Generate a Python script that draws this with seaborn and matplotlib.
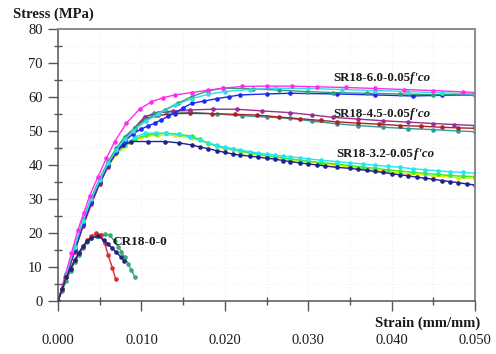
import matplotlib
matplotlib.use("Agg")
import matplotlib.pyplot as plt
import seaborn as sns
import numpy as np
from matplotlib.ticker import MultipleLocator, FormatStrFormatter

sns.set_theme(style="white")
plt.rcParams["font.family"] = ["Liberation Serif", "DejaVu Serif"]

# ---- stress-strain data (strain in mm/mm, stress in MPa) ----
# SR18-6.0-0.05f'co specimens
sr60_magenta_strain = [0, 0.0008, 0.0016, 0.0024, 0.0031, 0.0038, 0.0048, 0.0058, 0.0068, 0.0082, 0.0098,
                       0.0112, 0.0126, 0.0140, 0.0160, 0.0180, 0.0198, 0.0220, 0.0250, 0.0280, 0.0310,
                       0.0345, 0.0380, 0.0415, 0.0450, 0.0485, 0.0500]
sr60_magenta_stress = [0, 7, 14, 21, 26, 31, 36.6, 42, 46.9, 52.3, 56.5, 58.6, 59.8, 60.6, 61.3, 62.0,
                       62.6, 63.1, 63.2, 63.2, 63.0, 62.8, 62.5, 62.2, 61.9, 61.5, 61.3]
sr60_cyan_strain = [0, 0.001, 0.002, 0.003, 0.004, 0.005, 0.006, 0.007, 0.008, 0.009, 0.0105, 0.012,
                    0.014, 0.016, 0.018, 0.020, 0.023, 0.026, 0.030, 0.034, 0.038, 0.042, 0.046, 0.050]
sr60_cyan_stress = [0, 8, 16, 23.5, 30, 35.5, 40.5, 44.5, 47.5, 50, 52.8, 55, 57.5, 59.5, 60.8, 61.6,
                    62.2, 62.6, 62.5, 62.2, 61.9, 61.6, 61.2, 60.9]
sr60_green_strain = [0, 0.001, 0.002, 0.003, 0.004, 0.005, 0.006, 0.007, 0.008, 0.0092, 0.0104, 0.0116,
                     0.0128, 0.0144, 0.016, 0.018, 0.0198, 0.0234, 0.0265, 0.0298, 0.033, 0.037,
                     0.041, 0.045, 0.050]
sr60_green_stress = [0, 8, 16, 24, 30.5, 36, 41, 45, 48.3, 51, 53.2, 54.8, 56.2, 58.2, 60.1, 61.8, 62.6,
                     62.4, 62.0, 61.6, 61.3, 61.1, 60.9, 60.7, 60.6]
sr60_blue_strain = [0, 0.001, 0.002, 0.003, 0.004, 0.005, 0.006, 0.007, 0.008, 0.009, 0.0100, 0.0108,
                    0.0116, 0.0124, 0.0132, 0.014, 0.015, 0.016, 0.0175, 0.019, 0.0205, 0.0218, 0.025,
                    0.0278, 0.0334, 0.038, 0.0426, 0.046, 0.050]
sr60_blue_stress = [0, 7.5, 15, 22.5, 29, 35, 40, 44, 47, 49.2, 50.6, 51.5, 52.3, 53.3, 54.3, 55.3, 56.8,
                    58.1, 58.8, 59.5, 60.1, 60.6, 60.9, 61.1, 60.9, 60.6, 60.3, 60.5, 60.6]

# SR18-4.5-0.05f'co specimens
sr45_purple_strain = [0, 0.001, 0.002, 0.003, 0.004, 0.005, 0.006, 0.007, 0.008, 0.0092, 0.0104, 0.012,
                      0.0138, 0.0158, 0.0186, 0.0214, 0.0245, 0.0278, 0.0305, 0.033, 0.036, 0.039,
                      0.042, 0.045, 0.0475, 0.050]
sr45_purple_stress = [0, 7.5, 15, 22.5, 29, 35, 40, 44, 47.5, 51, 54.2, 55.3, 55.9, 56.2, 56.4, 56.4,
                      55.9, 55.4, 54.7, 54.0, 53.5, 53.0, 52.6, 52.2, 51.9, 51.6]
sr45_red_strain = [0, 0.001, 0.002, 0.003, 0.004, 0.005, 0.006, 0.007, 0.008, 0.0092, 0.0104, 0.012,
                   0.014, 0.0158, 0.0185, 0.0212, 0.0238, 0.0265, 0.029, 0.0315, 0.0334, 0.036, 0.0385,
                   0.041, 0.0435, 0.046, 0.048, 0.050]
sr45_red_stress = [0, 7, 14.5, 22, 28.5, 34.5, 39.5, 43.8, 47.5, 51, 53.5, 54.6, 55.1, 55.2, 55.1, 54.9,
                   54.7, 54.1, 53.6, 53.1, 52.7, 52.3, 52.0, 51.6, 51.4, 51.1, 50.9, 50.8]
sr45_teal_strain = [0, 0.001, 0.002, 0.003, 0.004, 0.005, 0.006, 0.007, 0.008, 0.0092, 0.0104, 0.0115,
                    0.013, 0.0158, 0.019, 0.022, 0.025, 0.0278, 0.0305, 0.0334, 0.036, 0.039, 0.042,
                    0.045, 0.048, 0.050]
sr45_teal_stress = [0, 7.5, 15, 22.5, 29, 35, 40, 44, 47.5, 51, 54, 55.3, 55.6, 55.5, 55.0, 54.5, 54.1,
                    53.7, 52.9, 52.1, 51.6, 51.1, 50.7, 50.4, 50.0, 49.8]

# SR18-3.2-0.05f'co specimens
sr32_navy_strain = [0, 0.001, 0.002, 0.003, 0.004, 0.005, 0.006, 0.0068, 0.0078, 0.0088, 0.0108, 0.0128,
                    0.0145, 0.016, 0.017, 0.018, 0.019, 0.020, 0.021, 0.0218, 0.023, 0.024, 0.025,
                    0.026, 0.027, 0.0278, 0.029, 0.030, 0.031, 0.032, 0.0334, 0.035, 0.036, 0.037,
                    0.038, 0.039, 0.040, 0.041, 0.042, 0.043, 0.044, 0.045, 0.046, 0.047, 0.048,
                    0.049, 0.050]
sr32_navy_stress = [0, 7.5, 15, 22.5, 29, 35, 40.5, 43.5, 45.8, 46.9, 46.9, 46.9, 46.5, 45.9, 45.3, 44.8,
                    44.2, 43.7, 43.2, 42.9, 42.6, 42.3, 42.0, 41.7, 41.3, 41.0, 40.6, 40.3, 40.0, 39.7,
                    39.3, 39.0, 38.7, 38.4, 38.1, 37.8, 37.4, 37.1, 36.8, 36.4, 36.1, 35.8, 35.4, 35.1,
                    34.8, 34.4, 34.1]
sr32_cyan_strain = [0, 0.001, 0.002, 0.003, 0.004, 0.005, 0.006, 0.007, 0.008, 0.0092, 0.0104, 0.0118,
                    0.013, 0.0145, 0.0158, 0.017, 0.018, 0.019, 0.020, 0.021, 0.0218, 0.023, 0.024,
                    0.025, 0.026, 0.027, 0.0278, 0.029, 0.030, 0.0315, 0.0334, 0.035, 0.0365, 0.038,
                    0.0395, 0.041, 0.0425, 0.044, 0.0455, 0.047, 0.0485, 0.050]
sr32_cyan_stress = [0, 7.5, 15, 22.5, 29, 35, 40, 43.5, 46, 48.2, 49.3, 49.4, 49.3, 49.0, 48.3, 47.3, 46.5,
                    45.8, 45.2, 44.8, 44.4, 43.9, 43.5, 43.2, 42.9, 42.6, 42.4, 42.1, 41.8, 41.4, 41.0,
                    40.6, 40.3, 39.9, 39.6, 39.3, 38.9, 38.6, 38.3, 38.0, 37.8, 37.6]
sr32_lime_strain = [0, 0.001, 0.002, 0.003, 0.004, 0.005, 0.006, 0.007, 0.008, 0.0092, 0.0105, 0.0118,
                    0.013, 0.0145, 0.016, 0.017, 0.018, 0.019, 0.020, 0.021, 0.0218, 0.023, 0.024,
                    0.025, 0.026, 0.027, 0.0278, 0.029, 0.030, 0.0315, 0.0334, 0.035, 0.0365, 0.038,
                    0.0395, 0.041, 0.0425, 0.044, 0.0455, 0.047, 0.0485, 0.050]
sr32_lime_stress = [0, 7.5, 15, 22.5, 29, 35, 40, 43.5, 45.8, 47.6, 48.7, 49.2, 49.3, 49.0, 48.5, 47.5,
                    46.5, 45.6, 45.0, 44.6, 44.2, 43.6, 43.1, 42.7, 42.4, 42.1, 41.8, 41.4, 41.1, 40.7,
                    40.3, 39.8, 39.4, 39.0, 38.6, 38.2, 37.9, 37.5, 37.2, 36.9, 36.7, 36.6]
sr32_yellow_strain = [0, 0.002, 0.004, 0.006, 0.008, 0.010, 0.012, 0.014, 0.016, 0.018, 0.020, 0.022,
                      0.024, 0.026, 0.028, 0.030, 0.033, 0.036, 0.039, 0.042, 0.045, 0.048, 0.050]
sr32_yellow_stress = [0, 15, 29, 40, 45.5, 48.2, 48.8, 48.7, 48.0, 46.3, 44.8, 43.9, 43.0, 42.3, 41.6,
                      40.9, 40.0, 39.1, 38.2, 37.4, 36.8, 36.3, 36.0]

# CR18-0-0 specimens (unconfined)
cr_red_strain = [0, 0.0005, 0.001, 0.0015, 0.002, 0.0025, 0.003, 0.0035, 0.004, 0.0046, 0.0051, 0.0056,
                 0.006, 0.0065, 0.0069]
cr_red_stress = [0, 3.5, 7, 9.5, 12, 14, 16, 17.8, 19, 20.0, 19.3, 17.0, 13.5, 9.8, 6.5]
cr_navy_strain = [0, 0.0005, 0.001, 0.0015, 0.002, 0.0025, 0.003, 0.0035, 0.004, 0.0048, 0.0055, 0.006,
                  0.0065, 0.007, 0.0075, 0.0079]
cr_navy_stress = [0, 3.5, 7, 9.5, 12, 14.2, 16.2, 17.6, 18.6, 19.1, 17.8, 16.7, 15.5, 14.3, 13.0, 11.8]
cr_green_strain = [0, 0.0005, 0.001, 0.0015, 0.002, 0.0025, 0.003, 0.0035, 0.004, 0.0045, 0.005, 0.0056,
                   0.0062, 0.0068, 0.0072, 0.0076, 0.008, 0.0084, 0.0088, 0.0092]
cr_green_stress = [0, 3, 6, 8.8, 11.3, 13.5, 15.5, 17.2, 18.4, 19.1, 19.5, 19.6, 19.3, 17.5, 16.0, 14.5,
                   12.8, 11.0, 9.0, 7.1]

curves = [
    (sr32_yellow_strain, sr32_yellow_stress, "#e8e800"),
    (sr32_lime_strain, sr32_lime_stress, "#33ee22"),
    (sr32_cyan_strain, sr32_cyan_stress, "#22e6f0"),
    (sr32_navy_strain, sr32_navy_stress, "#20208f"),
    (sr45_teal_strain, sr45_teal_stress, "#2f9c94"),
    (sr45_red_strain, sr45_red_stress, "#a82424"),
    (sr45_purple_strain, sr45_purple_stress, "#9a2d96"),
    (sr60_blue_strain, sr60_blue_stress, "#1c28f0"),
    (sr60_green_strain, sr60_green_stress, "#2e9e80"),
    (sr60_cyan_strain, sr60_cyan_stress, "#33dde0"),
    (sr60_magenta_strain, sr60_magenta_stress, "#ff2cf0"),
    (cr_green_strain, cr_green_stress, "#38a878"),
    (cr_red_strain, cr_red_stress, "#dd2a2a"),
    (cr_navy_strain, cr_navy_stress, "#23237c"),
]

labels = [
    (0.0330, 64.6, "SR18-6.0-0.05"),
    (0.0330, 54.2, "SR18-4.5-0.05"),
    (0.0334, 42.4, "SR18-3.2-0.05"),
]

fig = plt.figure(figsize=(4.96, 3.54), dpi=100)
ax = fig.add_axes([0.117, 0.150, 0.841, 0.768])

for xs, ys, col in curves:
    sns.lineplot(x=xs, y=ys, ax=ax, color=col, lw=1.0, marker="o", markersize=3.3,
                 markeredgewidth=0, sort=False, estimator=None, legend=False)

ax.set_xlim(0, 0.05)
ax.set_ylim(0, 80)
ax.xaxis.set_major_locator(MultipleLocator(0.01))
ax.xaxis.set_minor_locator(MultipleLocator(0.005))
ax.yaxis.set_major_locator(MultipleLocator(10))
ax.yaxis.set_minor_locator(MultipleLocator(5))
ax.xaxis.set_major_formatter(FormatStrFormatter("%.3f"))
ax.grid(True, which="both", color="#e4e4e4", lw=0.6, ls=(0, (1, 3)))

ax.tick_params(axis="both", which="major", direction="out", length=7, width=1.0,
               color="#555555", labelsize=10.5, labelcolor="#1a1a1a")
ax.tick_params(axis="both", which="minor", direction="inout", length=6, width=1.0, color="#555555")
ax.tick_params(axis="x", which="major", pad=17)
ax.tick_params(axis="y", which="major", pad=4)
ax.tick_params(left=True, bottom=True, which="both")

for side in ("left", "bottom"):
    ax.spines[side].set_color("#555555")
    ax.spines[side].set_linewidth(1.1)
for side in ("top", "right"):
    ax.spines[side].set_color("#8a8a8a")
    ax.spines[side].set_linewidth(1.4)

ax.set_xlabel("")
ax.set_ylabel("")
fig.text(13 / 496, 1 - 14 / 354, "Stress (MPa)", fontsize=10.5, fontweight="bold",
         ha="left", va="center", color="#1a1a1a")
fig.text(480 / 496, 1 - 323 / 354, "Strain (mm/mm)", fontsize=10.5, fontweight="bold",
         ha="right", va="center", color="#1a1a1a")

for x, y, txt in labels:
    t = ax.text(x, y, txt, fontsize=9.3, fontweight="bold", ha="left", va="baseline", color="#1a1a1a")
    ax.annotate("f'co", xy=(1, 0), xycoords=t, fontsize=9.3, fontweight="bold", fontstyle="italic",
                ha="left", va="bottom", color="#1a1a1a")
ax.text(0.0065, 17.2, "CR18-0-0", fontsize=9.5, fontweight="bold", ha="left", va="center",
        color="#1a1a1a")

fig.savefig("out.png", dpi=100)
